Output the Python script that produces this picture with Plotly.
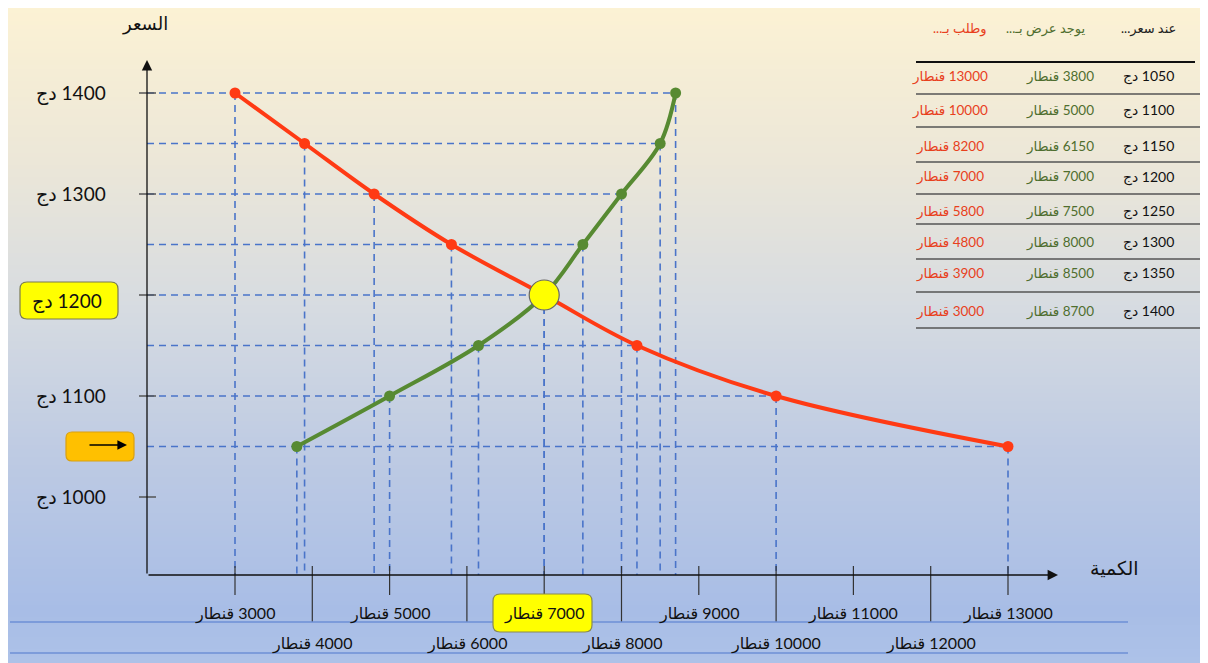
import plotly.graph_objects as go

# ---------------- data ----------------
prices = [1050, 1100, 1150, 1200, 1250, 1300, 1350, 1400]
supply_qty = [3800, 5000, 6150, 7000, 7500, 8000, 8500, 8700]
demand_qty = [13000, 10000, 8200, 7000, 5800, 4800, 3900, 3000]
eq_price = 1200
eq_qty = 7000
y_ticks = [1000, 1100, 1200, 1300, 1400]
x_ticks_row1 = [3000, 5000, 7000, 9000, 11000, 13000]
x_ticks_row2 = [4000, 6000, 8000, 10000, 12000]
unit_q = "قنطار"
unit_p = "دج"
y_title = "السعر"
x_title = "الكمية"
hdr_price = "عند سعر..."
hdr_supply = "يوجد عرض بـ..."
hdr_demand = "وطلب بـ..."

# ---------------- layout geometry (reference pixel coords) ----------------
OFF = 8                      # page body margin
REF_W, REF_H = 1208, 663
FW, FH = REF_W - OFF, REF_H - OFF
AX_L, AX_R, AX_T, AX_B = 147, 1057, 62, 575   # plot area in reference px
L, T = AX_L - OFF, AX_T - OFF
R, B = REF_W - AX_R, REF_H - AX_B
W = AX_R - AX_L
H = AX_B - AX_T

def px(x):
    return (x - AX_L) / W

def py(y):
    return 1 - (y - AX_T) / H

# axis scales (quantity 3000 at px 235, 13000 at px 1008; price 1000 at py 497, 1400 at py 93)
sx = (1008 - 235) / 10000.0
sy = (497 - 93) / 400.0
x_range = [3000 - (235 - AX_L) / sx, 3000 + (AX_R - 235) / sx]
y_range = [1000 - (AX_B - 497) / sy, 1400 + (93 - AX_T) / sy]

RED = "#FF3A14"
GREEN = "#578A32"
DASH = "#4A74C9"
FONT = "Lato, 'DejaVu Sans', sans-serif"

def rtl(s):
    return "\u202b" + s + "\u202c"

shapes = []
annotations = []

def label(text, x, y, size, color="#111", xref="paper", yref="paper", xanchor="center", yanchor="middle"):
    annotations.append(dict(xref=xref, yref=yref, x=x, y=y, xanchor=xanchor, yanchor=yanchor,
                            showarrow=False, text=text,
                            font=dict(family=FONT, size=size, color=color)))

# ---- gradient background ----
stops = [(5, (252, 242, 212)), (160, (236, 231, 216)), (310, (214, 219, 225)),
         (460, (189, 202, 227)), (610, (168, 189, 230)), (663, (173, 194, 232))]

def grad(y):
    for (y0, c0), (y1, c1) in zip(stops[:-1], stops[1:]):
        if y0 <= y <= y1:
            t = (y - y0) / (y1 - y0)
            return tuple(round(a + (b - a) * t) for a, b in zip(c0, c1))
    return stops[-1][1]

step = 4
y = 5
while y < REF_H:
    c = grad(y + step / 2)
    shapes.append(dict(type="rect", xref="paper", yref="paper", layer="below",
                       x0=px(6), x1=px(REF_W + 2), y0=py(y), y1=py(min(y + step + 0.6, REF_H + 2)),
                       fillcolor="rgb(%d,%d,%d)" % c, line=dict(width=0)))
    y += step

# ---- dashed guide lines ----
for p, s, d in zip(prices, supply_qty, demand_qty):
    shapes.append(dict(type="line", xref="x", yref="y", layer="below",
                       x0=x_range[0], x1=max(s, d), y0=p, y1=p,
                       line=dict(color=DASH, width=1.6, dash="7px,5px")))
    for q in (s, d):
        shapes.append(dict(type="line", xref="x", yref="y", layer="below",
                           x0=q, x1=q, y0=p, y1=y_range[0],
                           line=dict(color=DASH, width=1.6, dash="7px,5px")))

# ---- axes lines with arrowheads ----
annotations.append(dict(xref="paper", yref="paper", x=px(147), y=py(60), ax=0, ay=515,
                        text="", showarrow=True, arrowhead=2, arrowsize=1.6, arrowwidth=1.3,
                        arrowcolor="#111"))
annotations.append(dict(xref="paper", yref="paper", x=px(1058), y=py(575), ax=-911, ay=0,
                        text="", showarrow=True, arrowhead=2, arrowsize=1.6, arrowwidth=1.3,
                        arrowcolor="#111"))

# y ticks
for v in y_ticks:
    shapes.append(dict(type="line", xref="paper", yref="y", x0=px(139), x1=px(156), y0=v, y1=v,
                       line=dict(color="#555", width=1.5)))
# x ticks
for v in x_ticks_row1:
    shapes.append(dict(type="line", xref="x", yref="paper", x0=v, x1=v, y0=py(566), y1=py(595),
                       line=dict(color="#333", width=1.2)))
for v in x_ticks_row2:
    shapes.append(dict(type="line", xref="x", yref="paper", x0=v, x1=v, y0=py(566), y1=py(622),
                       line=dict(color="#333", width=1.2)))

# bottom blue rules
for yy in (622, 653):
    shapes.append(dict(type="line", xref="paper", yref="paper", x0=px(10), x1=px(1128),
                       y0=py(yy), y1=py(yy), line=dict(color="#6E8FD6", width=1.5)))

# ---- rounded boxes ----
def rbox(x0, y0, x1, y1, r, fill, line):
    X = lambda v: px(v)
    Y = lambda v: py(v)
    path = (f"M {X(x0 + r)},{Y(y0)} L {X(x1 - r)},{Y(y0)} Q {X(x1)},{Y(y0)} {X(x1)},{Y(y0 + r)} "
            f"L {X(x1)},{Y(y1 - r)} Q {X(x1)},{Y(y1)} {X(x1 - r)},{Y(y1)} "
            f"L {X(x0 + r)},{Y(y1)} Q {X(x0)},{Y(y1)} {X(x0)},{Y(y1 - r)} "
            f"L {X(x0)},{Y(y0 + r)} Q {X(x0)},{Y(y0)} {X(x0 + r)},{Y(y0)} Z")
    shapes.append(dict(type="path", xref="paper", yref="paper", path=path,
                       fillcolor=fill, line=dict(color=line, width=1.2)))

rbox(20, 282, 118, 319, 7, "#FFFF00", "#7A7A50")
rbox(66, 432, 134, 461, 6, "#FFC000", "#D9A010")
rbox(493, 594, 592, 632, 7, "#FFFF00", "#8A8A50")

annotations.append(dict(xref="paper", yref="paper", x=px(127), y=py(445), ax=-39, ay=0,
                        text="", showarrow=True, arrowhead=2, arrowsize=1.2, arrowwidth=1.6,
                        arrowcolor="#000"))

# ---- y labels ----
for v in y_ticks:
    if v == eq_price:
        label(rtl(f"{v} {unit_p}"), px(67), py(300.5), 19)
    else:
        label(rtl(f"{v} {unit_p}"), px(108), v, 19, yref="y", xanchor="right")

# ---- x labels ----
for v in x_ticks_row1:
    label(rtl(f"{v} {unit_q}"), v, py(613), 16, xref="x")
for v in x_ticks_row2:
    label(rtl(f"{v} {unit_q}"), v, py(643), 16, xref="x")

# axis titles
label(y_title, px(145), py(23), 18)
label(x_title, px(1114), py(567), 19)

# ---- table ----
TXT_RED = "#E8401C"
TXT_GREEN = "#4F6E2E"
col_x = {"d": 950, "s": 1060, "p": 1148}
label(rtl(hdr_price), px(1148), py(29), 13, "#222")
label(rtl(hdr_supply), px(1046), py(29), 13, TXT_GREEN)
label(rtl(hdr_demand), px(960), py(29), 13, TXT_RED)
shapes.append(dict(type="line", xref="paper", yref="paper", x0=px(916), x1=px(1195),
                   y0=py(62), y1=py(62), line=dict(color="#111", width=2)))
row_y = [76, 110, 146, 177, 211, 242, 273, 311]
row_line_y = [94, 127, 162, 194, 224, 259, 292, 328]
for p, s, d, ry, ly in zip(prices, supply_qty, demand_qty, row_y, row_line_y):
    label(rtl(f"{p} {unit_p}"), px(col_x["p"]), py(ry), 14, "#111")
    label(rtl(f"{s} {unit_q}"), px(col_x["s"]), py(ry), 13.5, TXT_GREEN)
    label(rtl(f"{d} {unit_q}"), px(col_x["d"]), py(ry), 13.5, TXT_RED)
    shapes.append(dict(type="line", xref="paper", yref="paper", x0=px(916), x1=px(1206),
                       y0=py(ly), y1=py(ly), line=dict(color="#555", width=1.5)))

# ---------------- traces ----------------
fig = go.Figure()
fig.add_trace(go.Scatter(x=demand_qty, y=prices, mode="lines+markers",
                         line=dict(color=RED, width=4, shape="spline", smoothing=1.0),
                         marker=dict(color=RED, size=11), name="demand", showlegend=False))
fig.add_trace(go.Scatter(x=supply_qty, y=prices, mode="lines+markers",
                         line=dict(color=GREEN, width=4, shape="spline", smoothing=1.0),
                         marker=dict(color=GREEN, size=11), name="supply", showlegend=False))
fig.add_trace(go.Scatter(x=[eq_qty], y=[eq_price], mode="markers",
                         marker=dict(color="#FFFF00", size=30, line=dict(color="#666", width=1.2)),
                         showlegend=False))

fig.update_layout(
    width=FW, height=FH,
    margin=dict(l=L, r=R, t=T, b=B),
    paper_bgcolor="white", plot_bgcolor="rgba(0,0,0,0)",
    xaxis=dict(range=x_range, visible=False, fixedrange=True),
    yaxis=dict(range=y_range, visible=False, fixedrange=True),
    shapes=shapes, annotations=annotations, showlegend=False,
)
fig.write_html("out.html")
